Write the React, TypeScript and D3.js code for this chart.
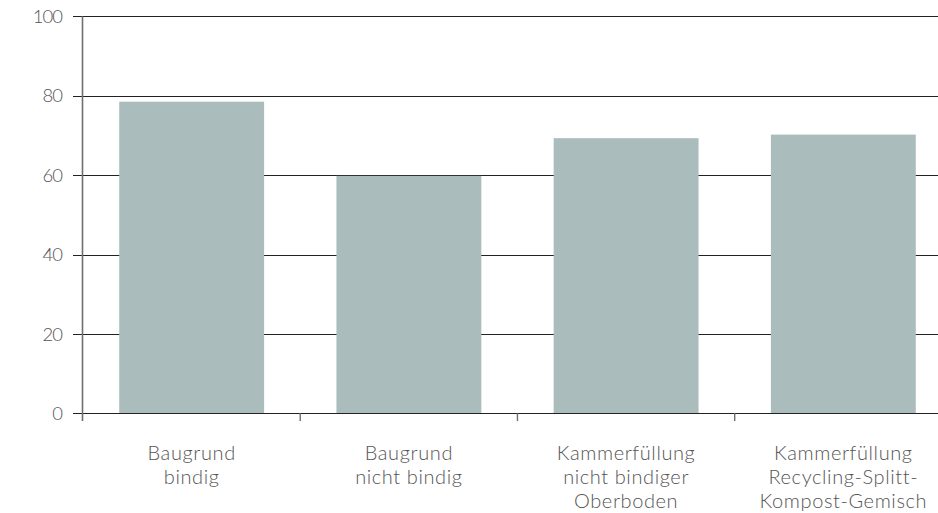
import React from "react";
import * as d3 from "d3";

const categories: string[][] = [
  ["Baugrund", "bindig"],
  ["Baugrund", "nicht bindig"],
  ["Kammerfüllung", "nicht bindiger", "Oberboden"],
  ["Kammerfüllung", "Recycling-Splitt-", "Kompost-Gemisch"],
];
const values: number[] = [78.5, 59.8, 69.3, 70.2];
const yTicks: number[] = [0, 20, 40, 60, 80, 100];

const W = 938;
const H = 513;
const axisX = 82.5;
const font = "Lato, 'Noto Sans', sans-serif";

export default function App() {
  const keys = categories.map((c) => c.join(" "));
  const x = d3
    .scaleBand<string>()
    .domain(keys)
    .range([83, 952])
    .paddingInner(0.333)
    .paddingOuter(0.1667);
  const y = d3.scaleLinear().domain([0, 100]).range([413.3, 16.3]);
  const step = x.step();
  const x0 = 83;

  return (
    <svg
      width={W}
      height={H}
      style={{ position: "absolute", left: 0, top: 0, background: "#fff" }}
      fontFamily={font}
    >
      {yTicks.map((t) => (
        <line
          key={"g" + t}
          x1={73}
          x2={W}
          y1={Math.round(y(t)) + 0.5}
          y2={Math.round(y(t)) + 0.5}
          stroke="#222"
          strokeWidth={1.2}
        />
      ))}
      {values.map((v, i) => (
        <rect
          key={"b" + i}
          x={x(keys[i])}
          y={y(v)}
          width={x.bandwidth()}
          height={y(0) - y(v)}
          fill="#aabdbc"
        />
      ))}
      <line x1={73} x2={W} y1={Math.round(y(0)) + 0.5} y2={Math.round(y(0)) + 0.5} stroke="#222" strokeWidth={1.2} />
      <line x1={axisX} x2={axisX} y1={y(100)} y2={421} stroke="#6e6e6e" strokeWidth={1.6} />
      {[1, 2, 3].map((i) => (
        <line
          key={"t" + i}
          x1={x0 + i * step}
          x2={x0 + i * step}
          y1={y(0)}
          y2={421}
          stroke="#6e6e6e"
          strokeWidth={1.4}
        />
      ))}
      {yTicks.map((t) => (
        <text
          key={"yl" + t}
          x={62}
          y={y(t)}
          dy="0.36em"
          textAnchor="end"
          fontSize={18.5}
          letterSpacing={-1}
          fill="#555"
          fontWeight={300}
        >
          {t}
        </text>
      ))}
      {categories.map((lines, i) => {
        const cx = (x(keys[i]) as number) + x.bandwidth() / 2;
        return (
          <text
            key={"xl" + i}
            x={cx}
            y={459.5}
            textAnchor="middle"
            fontSize={20}
            letterSpacing={0.6}
            fill="#555"
            fontWeight={300}
          >
            {lines.map((l, j) => (
              <tspan key={j} x={cx} dy={j === 0 ? 0 : 24}>
                {l}
              </tspan>
            ))}
          </text>
        );
      })}
    </svg>
  );
}
